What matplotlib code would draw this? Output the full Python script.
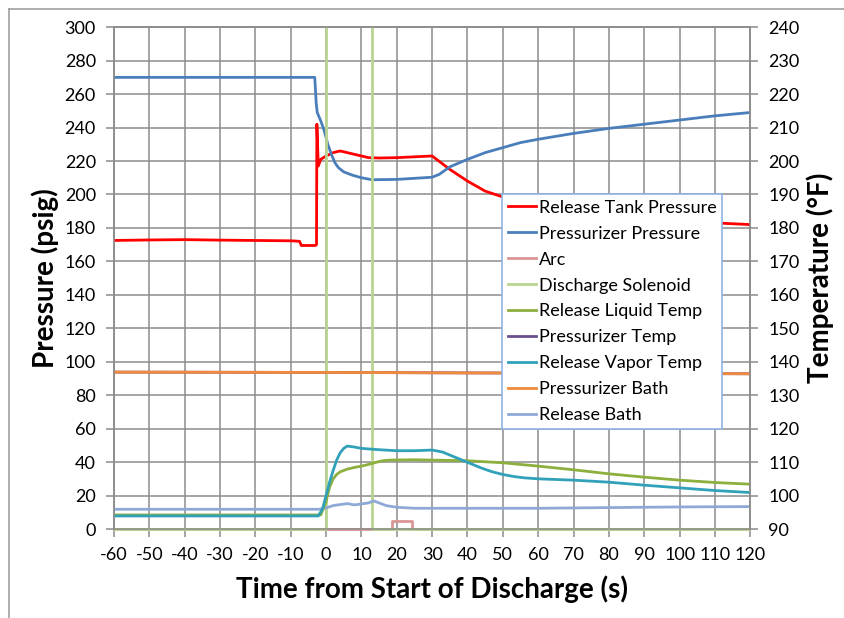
import matplotlib.pyplot as plt
from matplotlib.lines import Line2D
from matplotlib.patches import Rectangle

plt.rcParams['font.family'] = ['Lato', 'DejaVu Sans']
plt.rcParams['axes.unicode_minus'] = False

# --- data ---
# Release Tank Pressure (psig)
t_tank = [-60, -50, -40, -30, -20, -10, -7.5, -7, -3, -2.7, -2.6, -2.2, -1.5, 0, 2, 4, 6, 9, 12,
          15, 20, 25, 30, 35, 40, 45, 50, 55, 60, 70, 80, 90, 100, 110, 120]
p_tank = [172.5, 172.8, 173, 172.7, 172.5, 172.3, 172, 169.5, 169.5, 170, 242, 217, 221, 223, 225,
          226, 225, 223.5, 222, 221.8, 222, 222.5, 223, 215, 208, 202, 198.5, 195.5, 193.5, 190,
          187.5, 185.5, 184, 183, 182]

# Pressurizer Pressure (psig)
t_przr = [-60, -40, -20, -3.2, -2.8, -2.5, -1.5, -0.5, 0.5, 1.5, 2.5, 3.5, 5, 7.5, 10, 13, 20,
          30, 32, 35, 40, 45, 50, 55, 60, 70, 80, 90, 100, 110, 120]
p_przr = [270, 270, 270, 270, 255, 249, 244, 238, 230, 224, 219, 216, 213.5, 211.5, 210, 208.8,
          209, 210.3, 212, 216.5, 221, 225, 228, 231, 233, 236.5, 239.5, 242, 244.5, 247, 249]

# Arc and Discharge Solenoid (left axis)
t_arc = [-60, 18.6, 18.6, 24.4, 24.4, 120]
v_arc = [0, 0, 5, 5, 0, 0]
t_sol = [-60, 0, 0, 13, 13, 120]
v_sol = [0, 0, 350, 350, 0, 0]

# Temperatures (deg F, right axis)
t_liq = [-60, -20, -1.5, 0, 1, 2, 3, 4, 6, 8, 10, 12, 14, 16, 18, 25, 30, 40, 45, 50, 60, 70,
         80, 90, 100, 110, 120]
v_liq = [94.2, 94.2, 94.2, 98.3, 102.5, 105, 106.3, 107.1, 107.9, 108.4, 108.8, 109.3, 109.9,
         110.4, 110.6, 110.7, 110.6, 110.4, 110.1, 109.8, 108.8, 107.7, 106.5, 105.5, 104.6,
         103.9, 103.4]

t_vap = [-60, -20, -2.2, -1, 0, 1, 2, 3, 4, 5, 6, 8, 10, 15, 20, 25, 30, 33, 35, 38, 41, 44, 47,
         50, 53, 56, 60, 70, 80, 90, 100, 110, 120]
v_vap = [93.9, 93.9, 93.9, 96, 100, 104, 107.5, 110.6, 112.8, 114.1, 114.8, 114.5, 114.1, 113.7,
         113.4, 113.4, 113.6, 113, 112.1, 110.8, 109.5, 108.2, 107.1, 106.3, 105.7, 105.3, 105,
         104.6, 104, 103.1, 102.3, 101.5, 100.9]

t_pbath = [-60, 0, 60, 120]
v_pbath = [136.9, 136.8, 136.6, 136.4]
t_ptemp = t_pbath
v_ptemp = v_pbath

t_rbath = [-60, -20, -2, 0, 2, 4, 6, 8, 10, 12, 13.5, 15, 17, 20, 25, 40, 60, 80, 100, 120]
v_rbath = [95.9, 95.9, 95.9, 96.3, 97, 97.3, 97.6, 97.2, 97.5, 97.8, 98.4, 97.8, 97, 96.5, 96.2,
           96.2, 96.2, 96.4, 96.6, 96.7]

x_ticks = list(range(-60, 121, 10))

grid_c = '#8c8c8c'
fig = plt.figure(figsize=(8.44, 6.18), dpi=100)
ax = fig.add_axes([0.135, 0.144, 0.754, 0.812])
ax2 = ax.twinx()

lw = 2.0
h1, = ax.plot(t_tank, p_tank, color='#FF0000', lw=lw, label='Release Tank Pressure', zorder=3)
h2, = ax.plot(t_przr, p_przr, color='#4A7EBB', lw=lw, label='Pressurizer Pressure', zorder=3)
h3, = ax.plot(t_arc, v_arc, color='#D99694', lw=lw, label='Arc', zorder=3)
h4, = ax.plot(t_sol, v_sol, color='#B9D48F', lw=lw, label='Discharge Solenoid', zorder=3)
# let the zero-level lines show fully on the bottom edge, but clip at the top
for h in (h3, h4):
    h.set_clip_path(Rectangle((0, -0.02), 1, 1.02, transform=ax.transAxes))

h6, = ax2.plot(t_ptemp, v_ptemp, color='#6A4F92', lw=lw, label='Pressurizer Temp')
h8, = ax2.plot(t_pbath, v_pbath, color='#F08A3C', lw=lw, label='Pressurizer Bath')
h9, = ax2.plot(t_rbath, v_rbath, color='#8FA9D6', lw=lw, label='Release Bath')
h5, = ax2.plot(t_liq, v_liq, color='#8CAF3E', lw=lw, label='Release Liquid Temp')
h7, = ax2.plot(t_vap, v_vap, color='#31A1B9', lw=lw, label='Release Vapor Temp')

ax.set_xlim(-60, 120)
ax.set_ylim(0, 300)
ax2.set_ylim(90, 240)
ax.set_xticks(x_ticks)
ax.set_yticks(range(0, 301, 20))
ax2.set_yticks(range(90, 241, 10))
ax.grid(True, color=grid_c, lw=1.1, zorder=0)
ax.set_axisbelow(True)

for a in (ax, ax2):
    for s in a.spines.values():
        s.set_color(grid_c)
        s.set_linewidth(1.1)
    a.tick_params(colors=grid_c, labelcolor='black', labelsize=13, length=6, width=1.1, pad=7)

ax.set_xlabel('Time from Start of Discharge (s)', fontsize=20, fontweight='bold', labelpad=9)
ax.set_ylabel('Pressure (psig)', fontsize=20, fontweight='bold', labelpad=4)
ax2.set_ylabel('Temperature (°F)', fontsize=20, fontweight='bold', labelpad=5)

handles = [h1, h2, h3, h4, h5, h6, h7, h8, h9]
leg = ax2.legend(handles=handles, loc='upper left', bbox_to_anchor=(0.61, 0.667),
                 fontsize=13, frameon=True, fancybox=False, framealpha=1,
                 edgecolor='#8EB4E3', handlelength=1.6, handletextpad=0.15,
                 labelspacing=0.55, borderpad=0.3, borderaxespad=0)
leg.get_frame().set_linewidth(1.2)

# chart border (left and top only visible)
fig.add_artist(Line2D([0.011, 0.011], [0, 0.986], color='#a0a0a0', lw=1.2))
fig.add_artist(Line2D([0.011, 1.0], [0.986, 0.986], color='#a0a0a0', lw=1.2))

fig.savefig('out.png', dpi=100)
